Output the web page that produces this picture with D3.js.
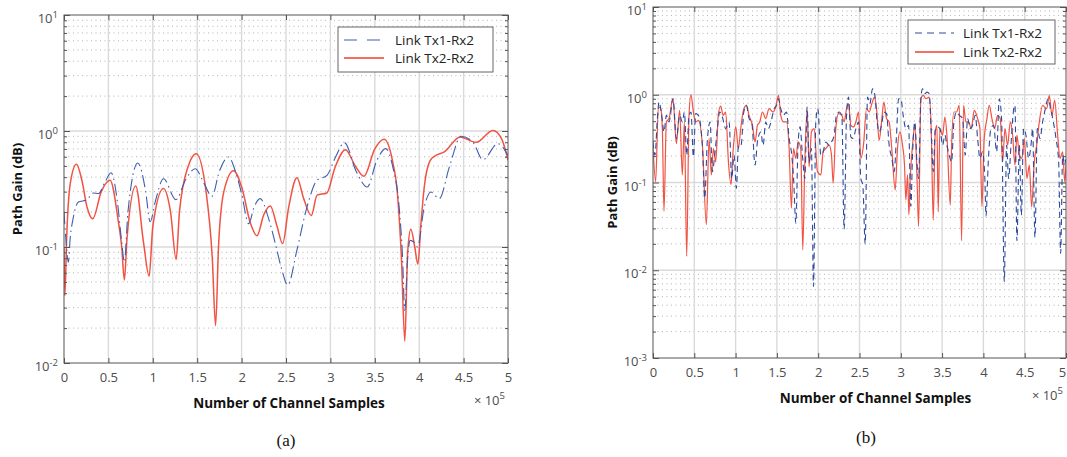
<!DOCTYPE html>
<html>
<head>
<meta charset="utf-8">
<script src="https://cdn.jsdelivr.net/npm/d3@7"></script>
<style>
  body { margin: 0; background: #fff; }
  svg { display: block; font-family: "Open Sans", sans-serif; }
</style>
</head>
<body>
<svg id="chart" width="1067" height="457"></svg>
<script>
// values, x in units of 1e5 samples
const seriesNames = ["Link Tx1-Rx2", "Link Tx2-Rx2"];
const xTicks = [0, 0.5, 1, 1.5, 2, 2.5, 3, 3.5, 4, 4.5, 5];
const xTickLabels = ["0", "0.5", "1", "1.5", "2", "2.5", "3", "3.5", "4", "4.5", "5"];
const yDecadesA = [0.01, 0.1, 1, 10];
const yDecadesB = [0.001, 0.01, 0.1, 1, 10];
const yExpA = ["-2", "-1", "0", "1"];
const yExpB = ["-3", "-2", "-1", "0", "1"];

// panel (a)
const aTx1 = [
  [0, 0.2], [0.02, 0.12], [0.049, 0.074], [0.07, 0.12], [0.105, 0.18], [0.162, 0.244],
  [0.256, 0.255], [0.33, 0.292], [0.387, 0.289], [0.46, 0.36], [0.53, 0.437], [0.6, 0.25],
  [0.65, 0.11], [0.68, 0.074], [0.72, 0.2], [0.831, 0.53], [0.92, 0.3], [0.97, 0.165],
  [1.03, 0.25], [1.12, 0.388], [1.26, 0.256], [1.37, 0.38], [1.477, 0.473], [1.58, 0.35],
  [1.665, 0.273], [1.75, 0.45], [1.853, 0.597], [1.93, 0.45], [2.0, 0.288], [2.08, 0.159],
  [2.14, 0.22], [2.21, 0.261], [2.3, 0.18], [2.38, 0.107], [2.45, 0.065], [2.52, 0.047],
  [2.623, 0.094], [2.736, 0.221], [2.85, 0.376], [2.962, 0.415], [3.06, 0.6], [3.158, 0.794],
  [3.29, 0.45], [3.415, 0.329], [3.52, 0.55], [3.623, 0.705], [3.7, 0.5], [3.774, 0.221],
  [3.81, 0.09], [3.838, 0.0284], [3.87, 0.08], [3.898, 0.114], [3.94, 0.11], [3.98, 0.1],
  [4.057, 0.221], [4.132, 0.298], [4.226, 0.261], [4.34, 0.49], [4.472, 0.9], [4.604, 0.804],
  [4.717, 0.566], [4.887, 0.778], [5.0, 0.617]
];
const aTx2 = [
  [0, 0.1], [0.01, 0.038], [0.03, 0.12], [0.07, 0.35], [0.14, 0.516], [0.2, 0.38],
  [0.26, 0.22], [0.323, 0.175], [0.42, 0.3], [0.519, 0.376], [0.61, 0.17], [0.65, 0.1],
  [0.68, 0.052], [0.71, 0.12], [0.808, 0.336], [0.895, 0.11], [0.959, 0.056], [1.0, 0.15],
  [1.12, 0.32], [1.2, 0.2], [1.263, 0.078], [1.3, 0.2], [1.4, 0.5], [1.489, 0.638],
  [1.6, 0.3], [1.67, 0.08], [1.707, 0.021], [1.74, 0.1], [1.8, 0.3], [1.91, 0.455],
  [2.0, 0.33], [2.1, 0.16], [2.173, 0.125], [2.25, 0.19], [2.323, 0.226], [2.4, 0.15],
  [2.462, 0.107], [2.53, 0.22], [2.623, 0.396], [2.7, 0.26], [2.785, 0.187], [2.85, 0.28],
  [2.96, 0.292], [3.05, 0.48], [3.17, 0.69], [3.28, 0.5], [3.377, 0.407], [3.5, 0.7],
  [3.604, 0.848], [3.7, 0.55], [3.755, 0.288], [3.8, 0.08], [3.838, 0.0154], [3.87, 0.09],
  [3.906, 0.142], [3.95, 0.1], [3.985, 0.071], [4.02, 0.16], [4.057, 0.329], [4.12, 0.55],
  [4.189, 0.617], [4.283, 0.66], [4.46, 0.888], [4.64, 0.798], [4.83, 1.01], [4.93, 0.85],
  [5.0, 0.56]
];

// panel (b)
const bTx1 = [
  [0, 0.29], [0.024, 0.205], [0.053, 0.535], [0.073, 0.826], [0.105, 0.583], [0.133, 0.377],
  [0.162, 0.583], [0.194, 0.49], [0.242, 0.901], [0.283, 0.317], [0.323, 0.583], [0.355, 0.49],
  [0.38, 0.636], [0.408, 0.205], [0.436, 0.583], [0.46, 0.636], [0.489, 0.196], [0.517, 0.609],
  [0.549, 0.583], [0.598, 0.266], [0.626, 0.0661], [0.658, 0.303], [0.691, 0.49], [0.719, 0.133],
  [0.747, 0.205], [0.779, 0.411], [0.808, 0.636], [0.84, 0.558], [0.88, 0.411], [0.921, 0.49],
  [0.953, 0.111], [0.981, 0.205], [1.01, 0.0859], [1.034, 0.266], [1.066, 0.266], [1.099, 0.636],
  [1.131, 0.757], [1.163, 0.535], [1.195, 0.49], [1.236, 0.158], [1.264, 0.29], [1.305, 0.377],
  [1.333, 0.266], [1.365, 0.49], [1.397, 0.411], [1.438, 0.535], [1.466, 0.694], [1.494, 0.757],
  [1.519, 0.901], [1.547, 0.694], [1.579, 0.583], [1.616, 0.636], [1.648, 0.317], [1.68, 0.205],
  [1.704, 0.102], [1.729, 0.0344], [1.757, 0.29], [1.781, 0.43], [1.809, 0.205], [1.838, 0.111],
  [1.866, 0.725], [1.89, 0.172], [1.918, 0.244], [1.943, 0.00653], [1.971, 0.49], [1.995, 0.694],
  [2.032, 0.205], [2.06, 0.224], [2.092, 0.29], [2.132, 0.266], [2.161, 0.29], [2.193, 0.346],
  [2.221, 0.583], [2.254, 0.636], [2.286, 0.583], [2.314, 0.0292], [2.343, 0.583], [2.367, 0.941],
  [2.395, 0.331], [2.423, 0.317], [2.456, 0.411], [2.488, 0.49], [2.516, 0.111], [2.54, 0.0937],
  [2.569, 0.0199], [2.597, 0.941], [2.625, 0.791], [2.658, 1.17], [2.686, 0.983], [2.714, 0.49],
  [2.738, 0.377], [2.767, 0.449], [2.795, 0.636], [2.827, 0.609], [2.859, 0.266], [2.892, 0.188],
  [2.92, 0.133], [2.948, 0.346], [2.973, 0.901], [3.001, 0.901], [3.029, 0.583], [3.061, 0.411],
  [3.094, 0.449], [3.122, 0.0532], [3.142, 0.205], [3.17, 0.49], [3.195, 0.172], [3.215, 0.111],
  [3.243, 0.901], [3.263, 1.17], [3.292, 1.03], [3.316, 1.07], [3.344, 1.03], [3.368, 0.377],
  [3.393, 0.133], [3.417, 0.394], [3.445, 0.43], [3.473, 0.411], [3.506, 0.266], [3.534, 0.346],
  [3.558, 0.266], [3.586, 0.205], [3.615, 0.172], [3.643, 0.49], [3.675, 0.636], [3.708, 0.583],
  [3.748, 0.535], [3.78, 0.205], [3.809, 0.535], [3.841, 0.411], [3.869, 0.449], [3.901, 0.583],
  [3.93, 0.317], [3.958, 0.188], [3.99, 0.224], [4.019, 0.102], [4.031, 0.0413], [4.059, 0.172],
  [4.091, 0.411], [4.124, 0.449], [4.16, 0.224], [4.192, 0.901], [4.22, 0.535], [4.253, 0.00744],
  [4.281, 0.266], [4.305, 0.111], [4.334, 0.266], [4.362, 0.636], [4.382, 0.757], [4.406, 0.0217],
  [4.435, 0.266], [4.459, 0.0424], [4.487, 0.411], [4.515, 0.346], [4.548, 0.188], [4.576, 0.266],
  [4.596, 0.411], [4.624, 0.0237], [4.653, 0.411], [4.685, 0.317], [4.717, 0.49], [4.75, 0.694],
  [4.782, 0.901], [4.814, 0.694], [4.847, 0.49], [4.879, 0.317], [4.911, 0.172], [4.935, 0.0156],
  [4.96, 0.205], [4.984, 0.158], [5.0, 0.205]
];
const bTx2 = [
  [0, 0.266], [0.032, 0.102], [0.065, 0.725], [0.093, 0.694], [0.113, 0.411], [0.133, 0.047],
  [0.162, 0.49], [0.194, 0.535], [0.242, 0.901], [0.283, 0.278], [0.323, 0.664], [0.355, 0.122],
  [0.38, 0.49], [0.408, 0.0144], [0.436, 0.583], [0.46, 1.0], [0.489, 0.636], [0.517, 0.49],
  [0.549, 0.512], [0.598, 0.266], [0.646, 0.033], [0.679, 0.317], [0.707, 0.122], [0.731, 0.244],
  [0.759, 0.172], [0.792, 0.609], [0.82, 0.744], [0.848, 0.583], [0.88, 0.636], [0.913, 0.172],
  [0.945, 0.095], [0.969, 0.224], [1.002, 0.43], [1.034, 0.244], [1.062, 0.411], [1.095, 0.664],
  [1.131, 0.757], [1.163, 0.583], [1.204, 0.449], [1.236, 0.29], [1.264, 0.449], [1.292, 0.49],
  [1.325, 0.636], [1.365, 0.535], [1.405, 0.694], [1.454, 0.636], [1.486, 0.725], [1.519, 0.983],
  [1.547, 0.583], [1.579, 0.49], [1.616, 0.49], [1.648, 0.244], [1.676, 0.0509], [1.7, 0.244],
  [1.729, 0.188], [1.757, 0.29], [1.789, 0.244], [1.813, 0.0171], [1.838, 0.172], [1.866, 0.664],
  [1.89, 0.151], [1.918, 0.377], [1.951, 0.411], [1.991, 0.133], [2.032, 0.122], [2.06, 0.224],
  [2.092, 0.244], [2.132, 0.266], [2.161, 0.205], [2.181, 0.098], [2.213, 0.411], [2.246, 0.609],
  [2.286, 0.583], [2.314, 0.49], [2.343, 0.694], [2.367, 0.791], [2.395, 0.449], [2.427, 0.43],
  [2.456, 0.49], [2.488, 0.636], [2.516, 0.188], [2.548, 0.266], [2.585, 0.694], [2.617, 0.636],
  [2.649, 0.791], [2.682, 0.941], [2.706, 0.694], [2.738, 0.303], [2.767, 0.49], [2.795, 0.826],
  [2.827, 0.535], [2.859, 0.49], [2.892, 0.234], [2.932, 0.0822], [2.96, 0.244], [2.989, 0.377],
  [3.021, 0.266], [3.045, 0.158], [3.061, 0.0633], [3.082, 0.122], [3.098, 0.043], [3.114, 0.111],
  [3.142, 0.266], [3.17, 0.449], [3.195, 0.122], [3.215, 0.0316], [3.243, 0.901], [3.271, 0.983],
  [3.304, 0.901], [3.344, 0.941], [3.368, 0.411], [3.393, 0.0372], [3.417, 0.377], [3.437, 0.449],
  [3.453, 0.0463], [3.473, 0.411], [3.506, 0.346], [3.534, 0.558], [3.558, 0.346], [3.599, 0.055],
  [3.615, 0.266], [3.643, 0.636], [3.675, 0.636], [3.708, 0.757], [3.736, 0.0217], [3.76, 0.757],
  [3.788, 0.49], [3.821, 0.49], [3.853, 0.411], [3.889, 0.664], [3.93, 0.535], [3.958, 0.411],
  [3.982, 0.0532], [4.01, 0.317], [4.043, 0.535], [4.071, 0.757], [4.103, 0.535], [4.136, 0.411],
  [4.172, 0.583], [4.204, 0.535], [4.233, 0.172], [4.261, 0.411], [4.293, 0.266], [4.326, 0.49],
  [4.354, 0.346], [4.382, 0.158], [4.406, 0.346], [4.435, 0.205], [4.467, 0.188], [4.495, 0.317],
  [4.527, 0.111], [4.556, 0.158], [4.584, 0.0527], [4.616, 0.172], [4.645, 0.266], [4.677, 0.49],
  [4.717, 0.757], [4.766, 0.694], [4.798, 0.983], [4.83, 0.583], [4.863, 0.862], [4.899, 0.346],
  [4.927, 0.188], [4.96, 0.224], [4.984, 0.102], [5.0, 0.158]
];

const blueA = "#3d5db0";
const blueB = "#2e4a9e";
const red = "#f03f2e";
const svg = d3.select("#chart");

function minorValues(decades) {
  const out = [];
  decades.slice(0, -1).forEach(d => {
    for (let k = 2; k <= 9; k++) out.push(d * k);
  });
  return out;
}

function drawPanel(p) {
  const x = d3.scaleLinear().domain([0, 5]).range([p.left, p.right]);
  const y = d3.scaleLog().domain([p.decades[0], p.decades[p.decades.length - 1]]).range([p.bottom, p.top]);
  const minors = minorValues(p.decades);
  const g = svg.append("g");

  // grid
  g.append("g").selectAll("line").data(minors).join("line")
    .attr("x1", p.left).attr("x2", p.right)
    .attr("y1", d => y(d)).attr("y2", d => y(d))
    .attr("stroke", "#b4b4b4").attr("stroke-width", 1).attr("stroke-dasharray", "1,3.5");
  g.append("g").selectAll("line").data(xTicks.slice(1, -1)).join("line")
    .attr("x1", d => x(d)).attr("x2", d => x(d))
    .attr("y1", p.top).attr("y2", p.bottom)
    .attr("stroke", "#dadada").attr("stroke-width", 1.4);
  g.append("g").selectAll("line").data(p.decades.slice(1, -1)).join("line")
    .attr("x1", p.left).attr("x2", p.right)
    .attr("y1", d => y(d)).attr("y2", d => y(d))
    .attr("stroke", "#dadada").attr("stroke-width", 1.4);

  // series
  const clipId = "clip" + p.name;
  svg.append("clipPath").attr("id", clipId).append("rect")
    .attr("x", p.left).attr("y", p.top)
    .attr("width", p.right - p.left).attr("height", p.bottom - p.top);
  const line = d3.line().x(d => x(d[0])).y(d => y(d[1])).curve(d3.curveMonotoneX);
  const plot = g.append("g").attr("clip-path", `url(#${clipId})`);
  plot.append("path").datum(p.tx2)
    .attr("d", line).attr("fill", "none")
    .attr("stroke", red).attr("stroke-width", p.redWidth).attr("stroke-opacity", 0.9);
  plot.append("path").datum(p.tx1)
    .attr("d", line).attr("fill", "none")
    .attr("stroke", p.blue).attr("stroke-width", 1.1)
    .attr("stroke-dasharray", p.dash);

  // axes, MATLAB style ticks pointing inward
  const axisStyle = sel => {
    sel.select(".domain").remove();
    sel.selectAll(".tick line").attr("stroke", "#555");
  };
  g.append("g").attr("transform", `translate(0,${p.bottom})`)
    .call(d3.axisBottom(x).tickValues(xTicks).tickFormat((d, i) => xTickLabels[i]).tickSize(-5).tickPadding(10))
    .call(axisStyle)
    .call(s => s.selectAll("text").attr("font-family", "Open Sans").attr("font-size", 13).attr("fill", "#4d4d4d"))
    .call(s => s.selectAll(".tick:last-of-type text").attr("dx", p.lastTickShift));
  g.append("g").attr("transform", `translate(0,${p.top})`)
    .call(d3.axisTop(x).tickValues(xTicks).tickFormat("").tickSize(-5)).call(axisStyle);
  g.append("g").attr("transform", `translate(${p.left},0)`)
    .call(d3.axisLeft(y).tickValues(p.decades).tickFormat("").tickSize(-6)).call(axisStyle);
  g.append("g").attr("transform", `translate(${p.left},0)`)
    .call(d3.axisLeft(y).tickValues(minors).tickFormat("").tickSize(-3)).call(axisStyle);
  g.append("g").attr("transform", `translate(${p.right},0)`)
    .call(d3.axisRight(y).tickValues(p.decades).tickFormat("").tickSize(-6)).call(axisStyle);
  g.append("g").attr("transform", `translate(${p.right},0)`)
    .call(d3.axisRight(y).tickValues(minors).tickFormat("").tickSize(-3)).call(axisStyle);

  // frame
  g.append("rect")
    .attr("x", p.left).attr("y", p.top)
    .attr("width", p.right - p.left).attr("height", p.bottom - p.top)
    .attr("fill", "none").attr("stroke", "#555").attr("stroke-width", 1);

  // y tick labels 10^n
  const yl = g.append("g").selectAll("text").data(p.decades).join("text")
    .attr("x", p.left - 6).attr("y", d => y(d) + 8)
    .attr("text-anchor", "end").attr("fill", "#4d4d4d").attr("font-size", 13);
  yl.append("tspan").text("10");
  yl.append("tspan").attr("dy", -5).attr("font-size", 9.5).text((d, i) => p.exps[i]);

  // multiplier
  const m = g.append("text")
    .attr("x", p.right - 3).attr("y", p.bottom + 42)
    .attr("text-anchor", "end").attr("fill", "#4d4d4d").attr("font-size", 13);
  m.append("tspan").text("\u00d7 10");
  m.append("tspan").attr("dy", -6).attr("font-size", 9.5).text("5");

  // titles
  g.append("text")
    .attr("x", (p.left + p.right) / 2 + p.xTitleShift).attr("y", p.bottom + 45)
    .attr("text-anchor", "middle").attr("font-weight", "bold").attr("font-size", 13.5)
    .attr("fill", "#111").text("Number of Channel Samples");
  g.append("text")
    .attr("transform", `translate(${p.yTitleX},${(p.top + p.bottom) / 2}) rotate(-90)`)
    .attr("text-anchor", "middle").attr("font-weight", "bold").attr("font-size", 13)
    .attr("fill", "#111").text("Path Gain (dB)");

  // legend
  const lg = g.append("g").attr("transform", `translate(${p.legend[0]},${p.legend[1]})`);
  lg.append("rect").attr("width", p.legend[2]).attr("height", p.legend[3])
    .attr("fill", "#fff").attr("stroke", "#666").attr("stroke-width", 1);
  seriesNames.forEach((name, i) => {
    const yy = p.legendRows[i];
    lg.append("line")
      .attr("x1", p.legendLine[0]).attr("x2", p.legendLine[1])
      .attr("y1", yy).attr("y2", yy)
      .attr("stroke", i === 0 ? p.blue : red)
      .attr("stroke-width", i === 0 ? 1.1 : 1.3)
      .attr("stroke-dasharray", i === 0 ? p.legendDash : null);
    lg.append("text")
      .attr("x", p.legendText).attr("y", yy + 5)
      .attr("font-size", 13.5).attr("fill", "#222").text(name);
  });

  // caption
  svg.append("text")
    .attr("x", p.caption[0]).attr("y", p.caption[1])
    .attr("text-anchor", "middle").attr("font-family", "Liberation Serif")
    .attr("font-size", 17).attr("fill", "#111").text(p.name === "a" ? "(a)" : "(b)");
}

drawPanel({
  name: "a", left: 64, right: 508, top: 15, bottom: 363,
  decades: yDecadesA, exps: yExpA, tx1: aTx1, tx2: aTx2,
  blue: blueA, dash: "12,4,1.5,4", legendDash: "13,10", redWidth: 1.5,
  legend: [338, 27, 155, 45], legendRows: [13, 31], legendLine: [6, 46], legendText: 57,
  yTitleX: 22, xTitleShift: 3, caption: [286, 446], lastTickShift: 0
});
drawPanel({
  name: "b", left: 653, right: 1066, top: 7, bottom: 358,
  decades: yDecadesB, exps: yExpB, tx1: bTx1, tx2: bTx2,
  blue: blueB, dash: "6,4", legendDash: "7,5", redWidth: 1.2,
  legend: [908, 20, 147, 44], legendRows: [13, 32], legendLine: [7, 46], legendText: 55,
  yTitleX: 617, xTitleShift: 16, caption: [866, 443], lastTickShift: -4
});
</script>
</body>
</html>
